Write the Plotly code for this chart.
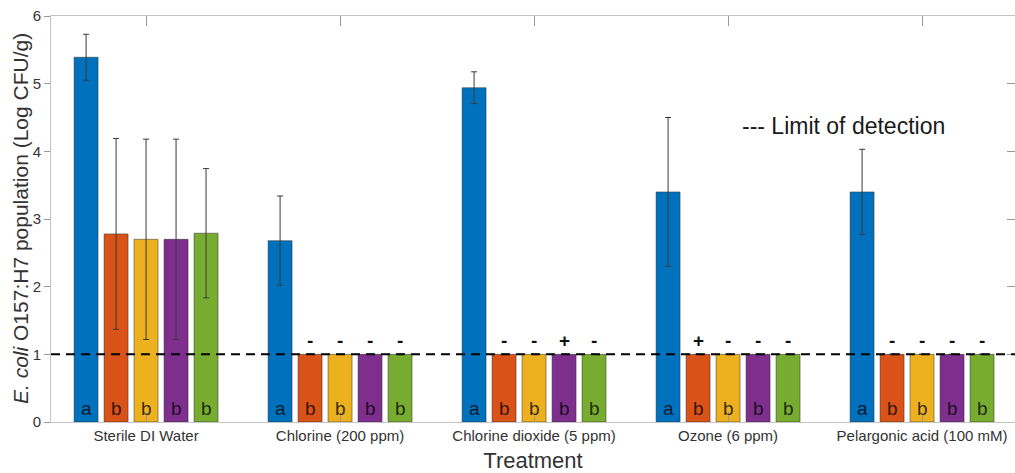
import plotly.graph_objects as go

# ---------------- data ----------------
treatments = ["Sterile DI Water", "Chlorine (200 ppm)", "Chlorine dioxide (5 ppm)",
              "Ozone (6 ppm)", "Pelargonic acid (100 mM)"]
group_pos = [1, 2, 3, 4, 5]

series_blue = [5.39, 2.68, 4.94, 3.40, 3.40]
series_orange = [2.78, 1.0, 1.0, 1.0, 1.0]
series_yellow = [2.70, 1.0, 1.0, 1.0, 1.0]
series_purple = [2.70, 1.0, 1.0, 1.0, 1.0]
series_green = [2.79, 1.0, 1.0, 1.0, 1.0]

err_blue = [0.34, 0.66, 0.235, 1.10, 0.63]
err_orange = [1.41, None, None, None, None]
err_yellow = [1.48, None, None, None, None]
err_purple = [1.48, None, None, None, None]
err_green = [0.955, None, None, None, None]

letters_blue = ["a", "a", "a", "a", "a"]
letters_orange = ["b", "b", "b", "b", "b"]
letters_yellow = ["b", "b", "b", "b", "b"]
letters_purple = ["b", "b", "b", "b", "b"]
letters_green = ["b", "b", "b", "b", "b"]

signs_blue = ["", "", "", "", ""]
signs_orange = ["", "-", "-", "+", "-"]
signs_yellow = ["", "-", "-", "-", "-"]
signs_purple = ["", "-", "+", "-", "-"]
signs_green = ["", "-", "-", "-", "-"]

limit_of_detection = 1.0
y_ticks = [0, 1, 2, 3, 4, 5, 6]

# ---------------- styling ----------------
colors = ["#0072BD", "#D95319", "#EDB120", "#7E2F8E", "#77AC30"]
values = [series_blue, series_orange, series_yellow, series_purple, series_green]
errors = [err_blue, err_orange, err_yellow, err_purple, err_green]
letters = [letters_blue, letters_orange, letters_yellow, letters_purple, letters_green]
signs = [signs_blue, signs_orange, signs_yellow, signs_purple, signs_green]

FONT = "Liberation Sans, Arial, Helvetica, sans-serif"
BARGAP = 0.227
BARGROUPGAP = 0.2
n_series = len(values)
slot = (1 - BARGAP) / n_series

fig = go.Figure()
for i in range(n_series):
    fig.add_trace(go.Bar(
        x=group_pos, y=values[i],
        marker=dict(color=colors[i], line=dict(color="rgba(40,40,40,0.6)", width=0.8)),
        error_y=dict(type="data", array=errors[i], symmetric=True, visible=True,
                     color="#3a3a3a", thickness=1, width=3),
        showlegend=False,
    ))

annotations = []
for i in range(n_series):
    for g, xg in enumerate(group_pos):
        xc = xg + (i - (n_series - 1) / 2) * slot
        annotations.append(dict(
            x=xc, y=0, xref="x", yref="y", text=letters[i][g], showarrow=False,
            yanchor="bottom", yshift=1,
            font=dict(family=FONT, size=19, color="rgba(0,0,0,0.78)")))
        if signs[i][g]:
            annotations.append(dict(
                x=xc, y=values[i][g], xref="x", yref="y", text="<b>" + signs[i][g] + "</b>",
                showarrow=False, yanchor="bottom", yshift=1,
                font=dict(family=FONT, size=19, color="#111")))

annotations.append(dict(
    x=4.593, y=4.37, xref="x", yref="y", text="--- Limit of detection", showarrow=False,
    font=dict(family=FONT, size=23, color="#1a1a1a")))

# y-axis title
annotations.append(dict(
    x=0, y=0.5, xref="paper", yref="paper", xanchor="center", yanchor="middle",
    xshift=-31, textangle=-90, showarrow=False,
    text="<i>E. coli</i> O157:H7 population (Log CFU/g)",
    font=dict(family=FONT, size=21, color="#333")))

fig.add_shape(type="line", xref="x domain", yref="y", x0=0, x1=1,
              y0=limit_of_detection, y1=limit_of_detection,
              line=dict(color="black", width=2, dash="9px,6px"), layer="above")

axis_grey = "#c4c4c4"
fig.update_layout(
    width=1015, height=473,
    margin=dict(l=51, r=0, t=16, b=51),
    paper_bgcolor="white", plot_bgcolor="white",
    barmode="group", bargap=BARGAP, bargroupgap=BARGROUPGAP,
    annotations=annotations,
    font=dict(family=FONT, color="#333"),
    xaxis=dict(
        range=[0.51, 0.51 + 964 / 194],
        tickvals=group_pos, ticktext=treatments,
        tickfont=dict(size=15, color="#333"),
        ticks="inside", ticklen=10, tickcolor="#999",
        showline=True, linecolor=axis_grey, linewidth=1, mirror="ticks",
        showgrid=False, zeroline=False,
        title=dict(text="Treatment", font=dict(size=22, color="#333"), standoff=10),
    ),
    yaxis=dict(
        range=[0, 6], tickvals=y_ticks,
        tickfont=dict(size=15, color="#333"),
        ticks="outside", ticklen=6, tickcolor="#999",
        showline=True, linecolor=axis_grey, linewidth=1, mirror=True,
        showgrid=False, zeroline=False,
    ),
    yaxis2=dict(
        range=[0, 6], tickvals=y_ticks, overlaying="y", side="right",
        ticks="inside", ticklen=8, tickcolor="#999", showticklabels=False,
        showgrid=False, zeroline=False, showline=False,
    ),
)
# invisible trace that activates the right-side tick axis
fig.add_trace(go.Scatter(x=[group_pos[0]], y=[y_ticks[0]], yaxis="y2", mode="markers",
                         marker=dict(opacity=0), showlegend=False, hoverinfo="skip"))

fig.write_html("out.html", config={"displayModeBar": False},
               post_script="document.body.style.margin='0';document.body.style.overflow='hidden';")
